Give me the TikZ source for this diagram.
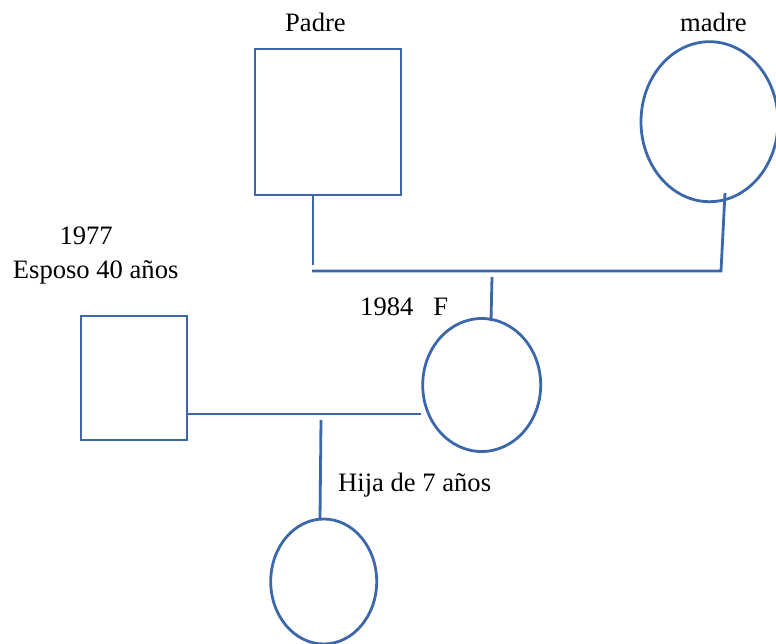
\documentclass[tikz,border=0pt]{standalone}
\usepackage{fontspec}
\setmainfont{Liberation Serif}
\usetikzlibrary{shapes.geometric}
\definecolor{pedblue}{RGB}{60,104,171}
\tikzset{
  male/.style={draw=pedblue, line width=2.8pt, rectangle, inner sep=0pt},
  female/.style={draw=pedblue, line width=2.8pt, ellipse, inner sep=0pt},
  link/.style={draw=pedblue, line width=2.8pt},
  lbl/.style={anchor=base west, inner sep=0pt, font=\fontsize{26.6}{30}\selectfont}
}
\begin{document}
\begin{tikzpicture}[x=1pt, y=-1pt]
\useasboundingbox (0,0) rectangle (776,644);

% family members
\node[male, minimum width=146pt, minimum height=146pt] (padre) at (328,122) {};
\node[female, minimum width=137pt, minimum height=160pt] (madre) at (709.5,121.7) {};
\node[female, minimum width=118pt, minimum height=133pt] (ego) at (481.7,385) {};
\node[male, minimum width=106pt, minimum height=124pt] (esposo) at (134,378) {};
\node[female, minimum width=106pt, minimum height=125pt] (hija) at (323.7,581.5) {};

% labels
\node[lbl] (tpadre) at (285,31.7) {Padre};
\node[lbl] (tmadre) at (680,31.7) {madre};
\node[lbl] (tano) at (59.3,245) {1977};
\node[lbl] (tesposo) at (12.7,278.3) {Esposo 40 años};
\node[lbl] (tego) at (360,315) {1984\hspace{20pt}F};
\node[lbl] (thija) at (338,491.7) {Hija de 7 años};

% junction points
\coordinate (pj) at (313,265);
\coordinate (ml) at (312,271);
\coordinate (mr) at (721,271);
\coordinate (mtop) at (725,193);
\coordinate (ej) at (492,277);
\coordinate (ejb) at (491,321);
\coordinate (cj) at (321,420);
\coordinate (cjb) at (320,519.5);

% parents' marriage line and descent
\draw[link] (padre.south -| pj) -- (pj);
\draw[link] (ml) -- (mr) -- (mtop);
\draw[link] (ej) -- (ejb);

% couple line and daughter
\draw[link] (esposo.east |- 0,414) -- (ego.west |- 0,414);
\draw[link] (cj) -- (cjb);
\end{tikzpicture}
\end{document}
